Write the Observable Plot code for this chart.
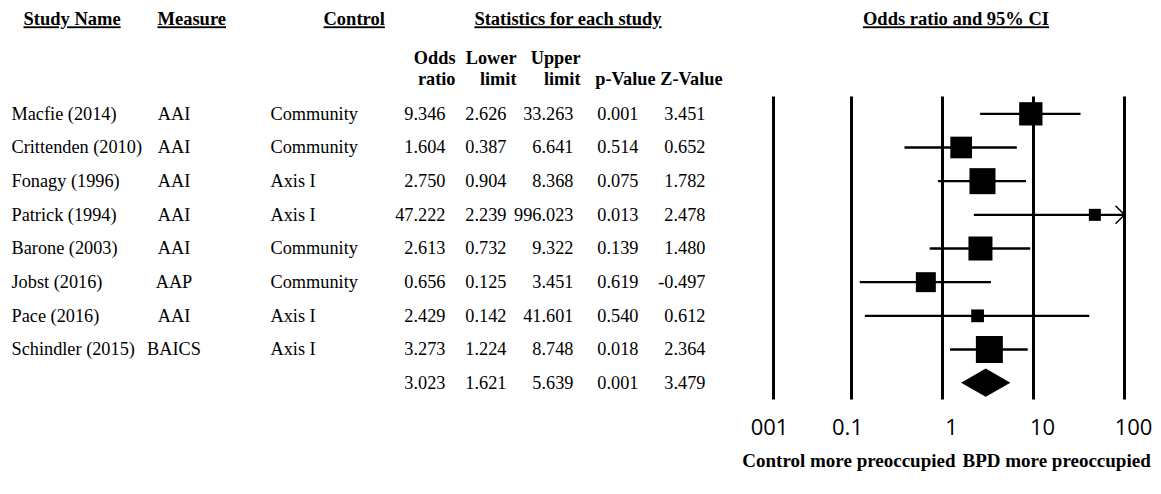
<!DOCTYPE html>
<html>
<head>
<meta charset="utf-8">
<script src="https://cdn.jsdelivr.net/npm/d3@7"></script>
<script src="https://cdn.jsdelivr.net/npm/@observablehq/plot@0.6"></script>
<style>
  body { margin: 0; background: #fff; }
  #chart svg { display: block; }
</style>
</head>
<body>
<div id="chart"></div>
<script>
// ---------------- data ----------------
const studies   = ["Macfie (2014)", "Crittenden (2010)", "Fonagy (1996)", "Patrick (1994)",
                   "Barone (2003)", "Jobst (2016)", "Pace (2016)", "Schindler (2015)"];
const measures  = ["AAI", "AAI", "AAI", "AAI", "AAI", "AAP", "AAI", "BAICS"];
const controls  = ["Community", "Community", "Axis I", "Axis I", "Community", "Community", "Axis I", "Axis I"];
const oddsRatio = [9.346, 1.604, 2.750, 47.222, 2.613, 0.656, 2.429, 3.273];
const lowerLim  = [2.626, 0.387, 0.904, 2.239, 0.732, 0.125, 0.142, 1.224];
const upperLim  = [33.263, 6.641, 8.368, 996.023, 9.322, 3.451, 41.601, 8.748];
const pValues   = [0.001, 0.514, 0.075, 0.013, 0.139, 0.619, 0.540, 0.018];
const zValues   = [3.451, 0.652, 1.782, 2.478, 1.480, -0.497, 0.612, 2.364];
// relative weights (%)
const weights   = [14.7, 12.7, 18.3, 3.9, 15.6, 10.8, 4.4, 19.7];

// pooled (summary) estimate
const pooledOR = 3.023, pooledLower = 1.621, pooledUpper = 5.639, pooledP = 0.001, pooledZ = 3.479;

// axis of the forest panel
const gridTicks  = [0.0139, 0.1, 1, 10, 100];
const tickLabels = ["001", "0.1", "1", "10", "100"];
const favours    = ["Control more preoccupied", "BPD more preoccupied"];

const headerTitles = ["Study Name", "Measure", "Control", "Statistics for each study", "Odds ratio and 95% CI"];

// ---------------- build ----------------
const xMax = 100;
const rows = studies.map((s, i) => ({
  i, study: s, measure: measures[i], control: controls[i],
  or: oddsRatio[i], lo: lowerLim[i], hi: upperLim[i],
  p: pValues[i], z: zValues[i], w: weights[i]
}));
const sumIdx = studies.length;
const summaryRow = [{i: sumIdx, or: pooledOR, lo: pooledLower, hi: pooledUpper, p: pooledP, z: pooledZ}];
const diamondHalf = 0.42;
const diamond = [
  {y: sumIdx - diamondHalf, x1: pooledOR, x2: pooledOR},
  {y: sumIdx, x1: pooledLower, x2: pooledUpper},
  {y: sumIdx + diamondHalf, x1: pooledOR, x2: pooledOR}
];
const allRows = rows.concat(summaryRow);

const chevron = {
  draw(ctx, size) {
    const s = Math.sqrt(size / Math.PI);
    ctx.moveTo(-s, -s);
    ctx.lineTo(0, 0);
    ctx.lineTo(-s, s);
  }
};

const f3 = v => v.toFixed(3);
const serif = "'Liberation Serif', 'Times New Roman', serif";
const bodySize = 18.3;

const col = (field, dx, anchor, data = rows) =>
  Plot.text(data, {y: "i", text: field, frameAnchor: "left", dx, textAnchor: anchor, lineAnchor: "middle", fontSize: bodySize});

const head = (label, dx, dy, anchor, size = 18.5) =>
  Plot.text([label], {text: d => d, frameAnchor: "top-left", dx, dy, textAnchor: anchor, lineAnchor: "middle", lineHeight: 1.15, fontWeight: "bold", fontSize: size});

const chart = Plot.plot({
  width: 1161,
  height: 494,
  marginTop: 96.5,
  marginBottom: 94.5,
  marginLeft: 0,
  marginRight: 0,
  style: {fontFamily: serif, fontSize: bodySize + "px", background: "#fff", color: "#000", overflow: "visible"},
  x: {type: "log", domain: [0.01, xMax], range: [760, 1124], axis: null},
  y: {domain: [-0.5, sumIdx + 0.5], reverse: true, axis: null},
  r: {domain: [0, 20], range: [0, 15.34]},
  marks: [
    // vertical reference lines
    Plot.ruleX(gridTicks, {stroke: "#000", strokeWidth: 3}),
    // confidence intervals
    Plot.ruleY(rows, {y: "i", x1: "lo", x2: d => Math.min(d.hi, xMax), stroke: "#000", strokeWidth: 2.3}),
    // truncated interval arrow
    Plot.dot(rows.filter(d => d.hi > xMax), {x: () => xMax, y: "i", symbol: chevron, r: 9, fill: "none", stroke: "#000", strokeWidth: 1.5}),
    // study boxes
    Plot.dot(rows, {x: "or", y: "i", r: "w", symbol: "square", fill: "#000", stroke: null}),
    // pooled diamond
    Plot.areaX(diamond, {y: "y", x1: "x1", x2: "x2", fill: "#000", curve: "linear"}),

    // table columns
    col("study", 11, "start"),
    col("measure", 173.5, "middle"),
    col("control", 270, "start"),
    col(d => f3(d.or), 445, "end", allRows),
    col(d => f3(d.lo), 506, "end", allRows),
    col(d => f3(d.hi), 573, "end", allRows),
    col(d => f3(d.p), 638, "end", allRows),
    col(d => f3(d.z), 705, "end", allRows),

    // headers
    head(headerTitles[0], 23, -78.5, "start"),
    head(headerTitles[1], 157, -78.5, "start"),
    head(headerTitles[2], 323, -78.5, "start"),
    head(headerTitles[3], 567.5, -78.5, "middle"),
    head(headerTitles[4], 955.5, -78.5, "middle"),
    // sub headers
    head("Odds\nratio", 455, -29, "end", 18.3),
    head("Lower\nlimit", 516, -29, "end", 18.3),
    head("Upper\nlimit", 580, -29, "end", 18.3),
    head("p-Value", 655, -18.5, "end", 18.3),
    head("Z-Value", 722, -18.5, "end", 18.3),

    // tick labels
    Plot.text(gridTicks.slice(0, 2), {x: d => d, text: (d, i) => tickLabels[i], frameAnchor: "bottom", lineAnchor: "middle", dy: 27.5, dx: -4, fontFamily: "'Open Sans', sans-serif", fontSize: 22}),
    Plot.text(gridTicks.slice(2), {x: d => d, text: (d, i) => tickLabels[i + 2], frameAnchor: "bottom", lineAnchor: "middle", dy: 27.5, dx: 9, fontFamily: "'Open Sans', sans-serif", fontSize: 22}),

    // favours labels
    Plot.text([favours[0]], {x: () => 1, text: d => d, frameAnchor: "bottom", lineAnchor: "middle", dy: 60.5, dx: 13, textAnchor: "end", fontWeight: "bold", fontSize: 19}),
    Plot.text([favours[1]], {x: () => 1, text: d => d, frameAnchor: "bottom", lineAnchor: "middle", dy: 60.5, dx: 20, textAnchor: "start", fontWeight: "bold", fontSize: 19})
  ]
});

d3.select(chart).selectAll("text").each(function () {
  if (headerTitles.includes(this.textContent)) {
    this.style.textDecoration = "underline";
  }
});

document.getElementById("chart").appendChild(chart);
</script>
</body>
</html>
